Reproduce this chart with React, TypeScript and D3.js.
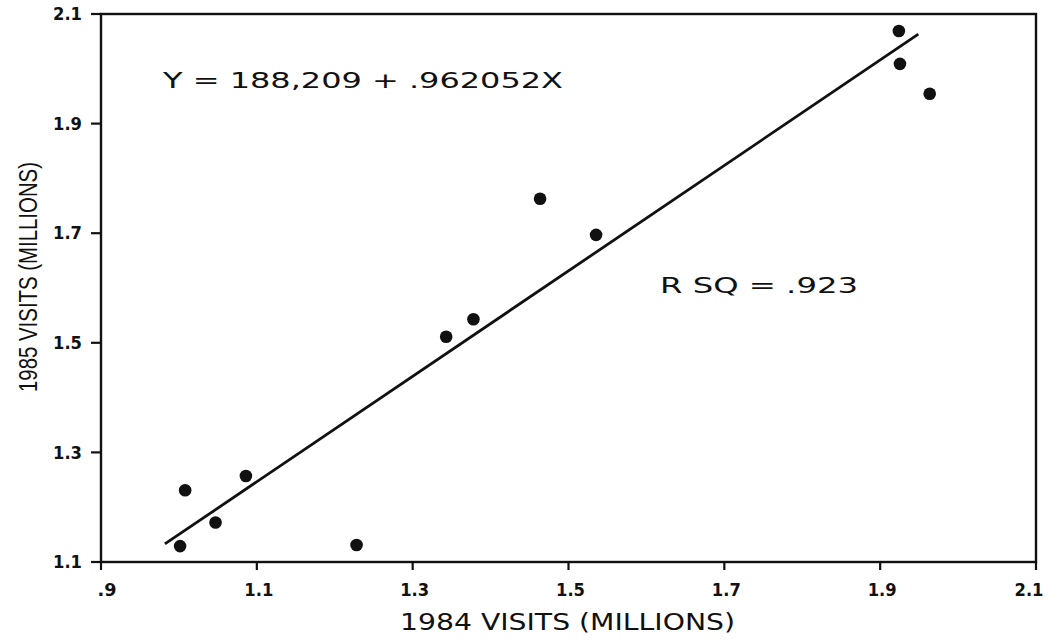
import React from "react";
import * as d3 from "d3";

const visits1984: number[] = [1.0015, 1.008, 1.047, 1.086, 1.228, 1.343, 1.378, 1.4635, 1.5354, 1.924, 1.9254, 1.9636];
const visits1985: number[] = [1.129, 1.231, 1.172, 1.257, 1.131, 1.511, 1.543, 1.763, 1.697, 2.069, 2.009, 1.9546];
const xTicks: number[] = [0.9, 1.1, 1.3, 1.5, 1.7, 1.9, 2.1];
const xTickLabels: string[] = [".9", "1.1", "1.3", "1.5", "1.7", "1.9", "2.1"];
const yTicks: number[] = [1.1, 1.3, 1.5, 1.7, 1.9, 2.1];
const yTickLabels: string[] = ["1.1", "1.3", "1.5", "1.7", "1.9", "2.1"];
const fitIntercept = 0.188209;
const fitSlope = 0.962052;
const fitRange: number[] = [0.982, 1.949];

const W = 1050;
const H = 642;
const left = 101;
const right = 1036;
const top = 14;
const bottom = 562;

export default function App() {
  const x = d3.scaleLinear().domain([0.9, 2.1]).range([left, right]);
  const y = d3.scaleLinear().domain([1.1, 2.1]).range([bottom, top]);
  const line = d3
    .line<number>()
    .x((d) => x(d))
    .y((d) => y(fitIntercept + fitSlope * d));
  const ink = "#111";
  const tickFont = "'DejaVu Sans', sans-serif";
  const xLabelOffset = (i: number) => (i === 0 ? 6 : i === xTicks.length - 1 ? -7 : 2);
  return (
    <svg
      width={W}
      height={H}
      style={{ position: "absolute", left: 0, top: 0, background: "#fff" }}
    >
      <rect x={0} y={0} width={W} height={H} fill="#fff" />
      {/* frame */}
      <rect
        x={left}
        y={top}
        width={right - left}
        height={bottom - top}
        fill="none"
        stroke={ink}
        strokeWidth={2.4}
      />
      {/* y ticks */}
      {yTicks.map((t, i) => (
        <g key={"yt" + i}>
          <line x1={left - 10} x2={left} y1={y(t)} y2={y(t)} stroke={ink} strokeWidth={2.2} />
          <text
            x={82}
            y={y(t)}
            dy="0.36em"
            textAnchor="end"
            fontFamily={tickFont}
            fontWeight="bold"
            fontSize={17}
            textLength={29}
            lengthAdjust="spacingAndGlyphs"
            fill={ink}
          >
            {yTickLabels[i]}
          </text>
        </g>
      ))}
      {/* x ticks */}
      {xTicks.map((t, i) => (
        <g key={"xt" + i}>
          <line x1={x(t)} x2={x(t)} y1={bottom} y2={bottom + 8} stroke={ink} strokeWidth={2.2} />
          <text
            x={x(t) + xLabelOffset(i)}
            y={596}
            textAnchor="middle"
            fontFamily={tickFont}
            fontWeight="bold"
            fontSize={17}
            textLength={i === 0 ? 19 : 29}
            lengthAdjust="spacingAndGlyphs"
            fill={ink}
          >
            {xTickLabels[i]}
          </text>
        </g>
      ))}
      {/* axis titles */}
      <text
        x={400}
        y={630}
        fontFamily="'DejaVu Sans', sans-serif"
        fontSize={23.5}
        textLength={335}
        lengthAdjust="spacingAndGlyphs"
        fill={ink}
      >
        1984 VISITS (MILLIONS)
      </text>
      <text
        transform="translate(37,392) rotate(-90)"
        x={0}
        y={0}
        fontFamily="'Liberation Sans', sans-serif"
        fontSize={25}
        textLength={230}
        lengthAdjust="spacingAndGlyphs"
        fill={ink}
      >
        1985 VISITS (MILLIONS)
      </text>
      {/* regression line */}
      <path d={line(fitRange) || ""} fill="none" stroke={ink} strokeWidth={2.8} />
      {/* points */}
      {visits1984.map((v, i) => (
        <circle key={"p" + i} cx={x(v)} cy={y(visits1985[i])} r={6.3} fill={ink} />
      ))}
      {/* annotations */}
      <text
        x={163}
        y={88}
        fontFamily="'DejaVu Sans', sans-serif"
        fontSize={21}
        textLength={400}
        lengthAdjust="spacingAndGlyphs"
        fill={ink}
      >
        Y = 188,209 + .962052X
      </text>
      <text
        x={660}
        y={293}
        fontFamily="'DejaVu Sans', sans-serif"
        fontSize={21}
        textLength={198}
        lengthAdjust="spacingAndGlyphs"
        fill={ink}
      >
        R SQ = .923
      </text>
    </svg>
  );
}
